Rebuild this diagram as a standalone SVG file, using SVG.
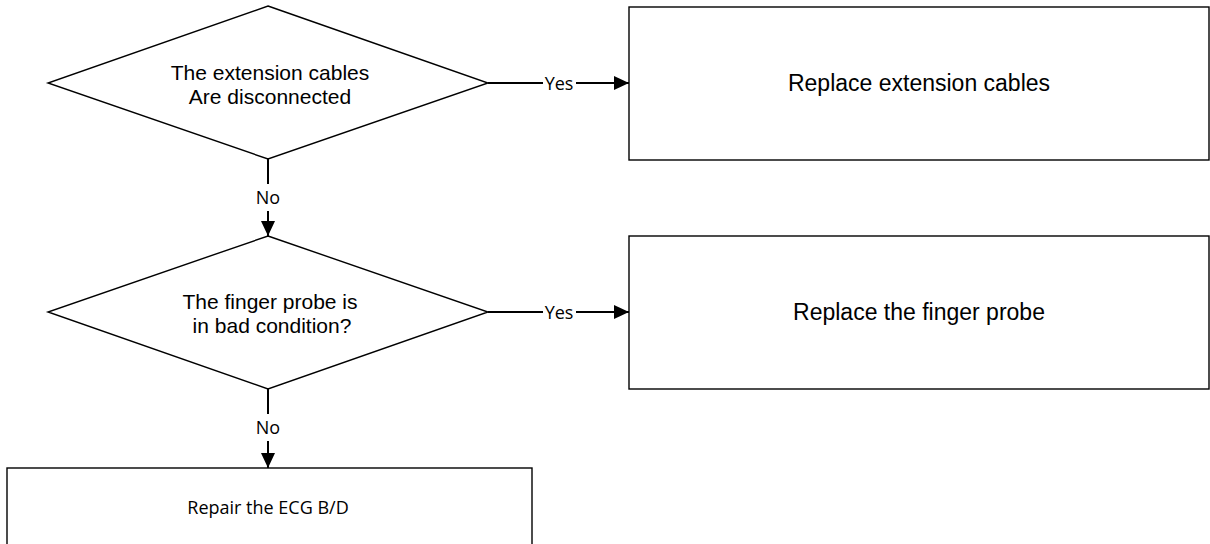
<svg xmlns="http://www.w3.org/2000/svg" width="1210" height="544" viewBox="0 0 1210 544">
<defs>
<style>
.shape{fill:#fff;stroke:#000;stroke-width:1.4}
.conn{stroke:#000;stroke-width:2;fill:none}
.dtxt{font-family:"Liberation Sans",Arial,sans-serif;font-size:21px;fill:#000;text-anchor:middle}
.btxt{font-family:"Liberation Sans",Arial,sans-serif;font-size:23px;fill:#000;text-anchor:middle}
.ctxt{font-family:"Open Sans","Noto Sans",sans-serif;font-size:18px;fill:#000;text-anchor:middle}
.lbl{font-family:"Open Sans","Noto Sans",sans-serif;font-size:18px;fill:#000;text-anchor:middle}
</style>
<marker id="arr" markerUnits="userSpaceOnUse" markerWidth="15" markerHeight="14" refX="15" refY="7" orient="auto">
<path d="M0,0 L15,7 L0,14 Z" fill="#000"/>
</marker>
</defs>
<rect width="1210" height="544" fill="#fff"/>
<g id="d1">
<polygon class="shape" points="268,6 488,83 268,159 48,83"/>
<text class="dtxt" x="270" y="80">The extension cables</text>
<text class="dtxt" x="270" y="104">Are disconnected</text>
</g>
<g id="b1">
<rect class="shape" x="629" y="7" width="580" height="153"/>
<text class="btxt" x="919" y="91">Replace extension cables</text>
</g>
<g id="d2">
<polygon class="shape" points="268,236 488,312 268,389 48,312"/>
<text class="dtxt" x="270" y="309">The finger probe is</text>
<text class="dtxt" x="272" y="333">in bad condition?</text>
</g>
<g id="b2">
<rect class="shape" x="629" y="236" width="580" height="153"/>
<text class="btxt" x="919" y="320">Replace the finger probe</text>
</g>
<g id="b3">
<rect class="shape" x="7" y="468" width="525" height="90"/>
<text class="ctxt" x="268" y="514">Repair the ECG B/D</text>
</g>
<g id="connectors">
<line class="conn" x1="488" y1="83" x2="543" y2="83"/>
<line class="conn" x1="576" y1="83" x2="629" y2="83" marker-end="url(#arr)"/>
<text class="lbl" x="559" y="90">Yes</text>
<line class="conn" x1="488" y1="312" x2="543" y2="312"/>
<line class="conn" x1="576" y1="312" x2="629" y2="312" marker-end="url(#arr)"/>
<text class="lbl" x="559" y="319">Yes</text>
<line class="conn" x1="268" y1="159" x2="268" y2="184"/>
<line class="conn" x1="268" y1="211" x2="268" y2="236" marker-end="url(#arr)"/>
<text class="lbl" x="268" y="204">No</text>
<line class="conn" x1="268" y1="389" x2="268" y2="414"/>
<line class="conn" x1="268" y1="441" x2="268" y2="468" marker-end="url(#arr)"/>
<text class="lbl" x="268" y="434">No</text>
</g>
</svg>
